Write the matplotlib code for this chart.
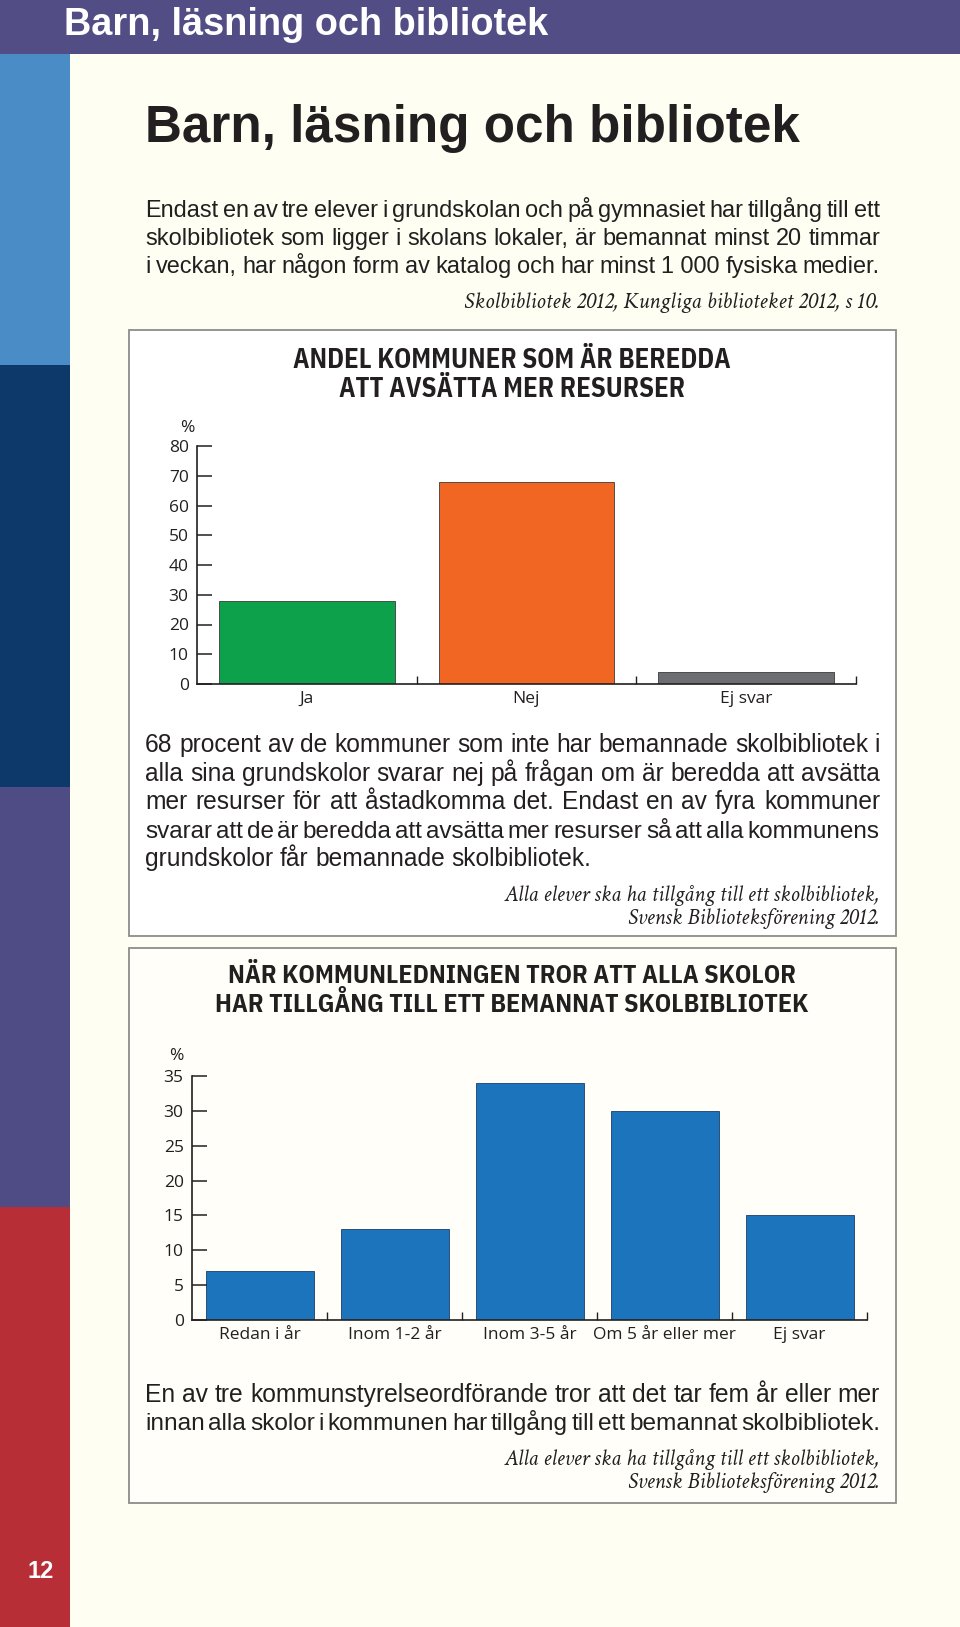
import matplotlib
matplotlib.use('Agg')
import matplotlib.pyplot as plt
from matplotlib.patches import Rectangle
import logging

logging.getLogger('matplotlib.font_manager').setLevel(logging.ERROR)

W, H = 960, 1627

# --- data ---
answers = ['Ja', 'Nej', 'Ej svar']
answer_pct = [28, 68, 4]
answer_colors = ['#0ea14b', '#f26624', '#6d6e71']

when_labels = ['Redan i år', 'Inom 1-2 år', 'Inom 3-5 år', 'Om 5 år eller mer', 'Ej svar']
when_pct = [7, 13, 34, 30, 15]

intro_lines = [
    'Endast en av tre elever i grundskolan och på gymnasiet har tillgång till ett',
    'skolbibliotek som ligger i skolans lokaler, är bemannat minst 20 timmar',
    'i veckan, har någon form av katalog och har minst 1\u00a0000 fysiska medier.',
]
mid_lines = [
    '68 procent av de kommuner som inte har bemannade skolbibliotek i',
    'alla sina grundskolor svarar nej på frågan om är beredda att avsätta',
    'mer resurser för att åstadkomma det. Endast en av fyra kommuner',
    'svarar att de är beredda att avsätta mer resurser så att alla kommunens',
    'grundskolor får bemannade skolbibliotek.',
]
end_lines = [
    'En av tre kommunstyrelseordförande tror att det tar fem år eller mer',
    'innan alla skolor i kommunen har tillgång till ett bemannat skolbibliotek.',
]
source_kb = 'Skolbibliotek 2012, Kungliga biblioteket 2012, s 10.'
source_sbf = ['Alla elever ska ha tillgång till ett skolbibliotek,',
              'Svensk Biblioteksförening 2012.']

CREAM = '#fffef3'
INK = '#231f20'
PURPLE = '#524d85'

SANS = ['Liberation Sans', 'DejaVu Sans']
COND = ['IBM Plex Sans Condensed', 'Roboto Condensed', 'Liberation Sans', 'DejaVu Sans']
SERIF = ['Crimson Text', 'Crimson Pro', 'Liberation Serif', 'DejaVu Serif']
TICKF = ['Open Sans', 'DejaVu Sans']

fig = plt.figure(figsize=(W / 100, H / 100), dpi=100, facecolor=CREAM)
bg = fig.add_axes([0, 0, 1, 1])
bg.set_xlim(0, W)
bg.set_ylim(H, 0)
bg.axis('off')
r = fig.canvas.get_renderer()

# page frame
bg.add_patch(Rectangle((0, 0), W, 54, color=PURPLE, lw=0))
for y0, y1, c in [(54, 365, '#4a8cc5'), (365, 787, '#0c386a'),
                  (787, 1207, '#4f4b84'), (1207, H, '#b82e37')]:
    bg.add_patch(Rectangle((0, y0), 70, y1 - y0, color=c, lw=0))
bg.add_patch(Rectangle((129, 330), 767, 606, facecolor='white', edgecolor='#8c8c8c', lw=1.3))
bg.add_patch(Rectangle((129, 948), 767, 555, facecolor='#fffef8', edgecolor='#8c8c8c', lw=1.3))


def width_of(s, size, **kw):
    t = bg.text(0, 0, s, fontsize=size, **kw)
    w = t.get_window_extent(r).width
    t.remove()
    return w


def fit_size(s, target, **kw):
    return 20 * target / width_of(s, 20, **kw)


def para_size(lines, target, family):
    sizes = sorted(fit_size(ln, target, family=family) for ln in lines[:len(lines) - 1 or 1])
    return sizes[len(sizes) // 2]


def justify(line, x0, x1, y, size, family, last=False):
    words = line.split(' ')
    sp = width_of('a a', size, family=family) - width_of('aa', size, family=family)
    ws = [width_of(w, size, family=family) for w in words]
    gap = sp if last else (x1 - x0 - sum(ws)) / (len(words) - 1)
    if gap < 0.55 * sp:
        k = (x1 - x0) / (sum(ws) + 0.55 * sp * (len(words) - 1))
        size *= k
        ws = [w * k for w in ws]
        gap = 0.55 * sp * k
    x = x0
    for w, wd in zip(words, ws):
        bg.text(x, y, w, fontsize=size, family=family, color=INK, va='baseline')
        x += wd + gap


# headers
s = fit_size('Barn, läsning och bibliotek', 484, family=SANS, weight='bold')
bg.text(64, 35, 'Barn, läsning och bibliotek', fontsize=s, family=SANS,
        weight='bold', color='white', va='baseline')
s = fit_size('Barn, läsning och bibliotek', 654, family=SANS, weight='bold')
bg.text(145, 142, 'Barn, läsning och bibliotek', fontsize=s, family=SANS,
        weight='bold', color=INK, va='baseline')
bg.text(41, 1572, '12', fontsize=17, family=SANS, weight='bold',
        color='white', ha='center', va='center')

s = para_size(intro_lines, 735, SANS)
for i, ln in enumerate(intro_lines):
    justify(ln, 145, 880, 217 + 28 * i, s, SANS)
s = fit_size(source_kb, 414, family=SERIF, style='italic')
bg.text(880, 308, source_kb, fontsize=s, family=SERIF, style='italic',
        color=INK, ha='right', va='baseline')

s = para_size(mid_lines, 735, SANS)
for i, ln in enumerate(mid_lines):
    justify(ln, 145, 880, 752 + 28.5 * i, s, SANS, last=(i == len(mid_lines) - 1))
s = para_size(end_lines, 735, SANS)
for i, ln in enumerate(end_lines):
    justify(ln, 145, 880, 1402 + 28 * i, s, SANS)

s_src = fit_size(source_sbf[0], 375, family=SERIF, style='italic')
for y in (901, 1465):
    for j, ln in enumerate(source_sbf):
        bg.text(880, y + 23 * j, ln, fontsize=s_src, family=SERIF, style='italic',
                color=INK, ha='right', va='baseline')

# chart titles
t1 = ['ANDEL KOMMUNER SOM ÄR BEREDDA', 'ATT AVSÄTTA MER RESURSER']
t2 = ['NÄR KOMMUNLEDNINGEN TROR ATT ALLA SKOLOR',
      'HAR TILLGÅNG TILL ETT BEMANNAT SKOLBIBLIOTEK']
s1 = 0.95 * fit_size(t1[0], 460, family=COND, weight='bold')
s2 = 0.95 * fit_size(t2[1], 625, family=COND, weight='bold')
for lines, ys, s in [(t1, (368, 397), s1), (t2, (983, 1012), s2)]:
    for ln, y in zip(lines, ys):
        bg.text(512, y, ln, fontsize=s, family=COND, weight='bold',
                color=INK, ha='center', va='baseline')


def px_axes(x0, y0, x1, y1):
    a = fig.add_axes([x0 / W, 1 - y1 / H, (x1 - x0) / W, (y1 - y0) / H])
    a.set_facecolor('none')
    return a


def style_axes(ax, n, ymax, step):
    ax.set_xlim(-0.5, n - 0.5)
    ax.set_ylim(0, ymax)
    for sp in ('top', 'right'):
        ax.spines[sp].set_visible(False)
    for sp in ('left', 'bottom'):
        ax.spines[sp].set_linewidth(1.2)
        ax.spines[sp].set_color(INK)
    ax.set_yticks(range(0, ymax + 1, step))
    ax.tick_params(axis='y', direction='in', length=11, width=1.1, pad=6,
                   labelsize=12.5, colors=INK)
    ax.set_xticks(range(n))
    ax.set_xticks([i + 0.5 for i in range(n)], minor=True)
    ax.tick_params(axis='x', which='major', length=0, pad=5, labelsize=12.5, colors=INK)
    ax.tick_params(axis='x', which='minor', direction='in', length=6, width=1, colors=INK)
    for lab in ax.get_yticklabels():
        lab.set_family(TICKF)


ax1 = px_axes(197, 446, 856, 684)
ax1.bar(range(len(answers)), answer_pct, width=0.8, color=answer_colors,
        edgecolor='#3a3a3a', linewidth=0.6)
style_axes(ax1, len(answers), 80, 10)
ax1.set_xticklabels(answers, family=TICKF)

ax2 = px_axes(192, 1076, 867, 1320)
ax2.bar(range(len(when_labels)), when_pct, width=0.8, color='#1c75bc',
        edgecolor='#1a3f6a', linewidth=0.6)
style_axes(ax2, len(when_labels), 35, 5)
ax2.set_xticklabels(when_labels, family=TICKF)

bg.text(187, 428, '%', fontsize=12.5, family=TICKF, color=INK, ha='center', va='center')
bg.text(176, 1056, '%', fontsize=12.5, family=TICKF, color=INK, ha='center', va='center')

fig.savefig('out.png', dpi=100, facecolor=CREAM)
